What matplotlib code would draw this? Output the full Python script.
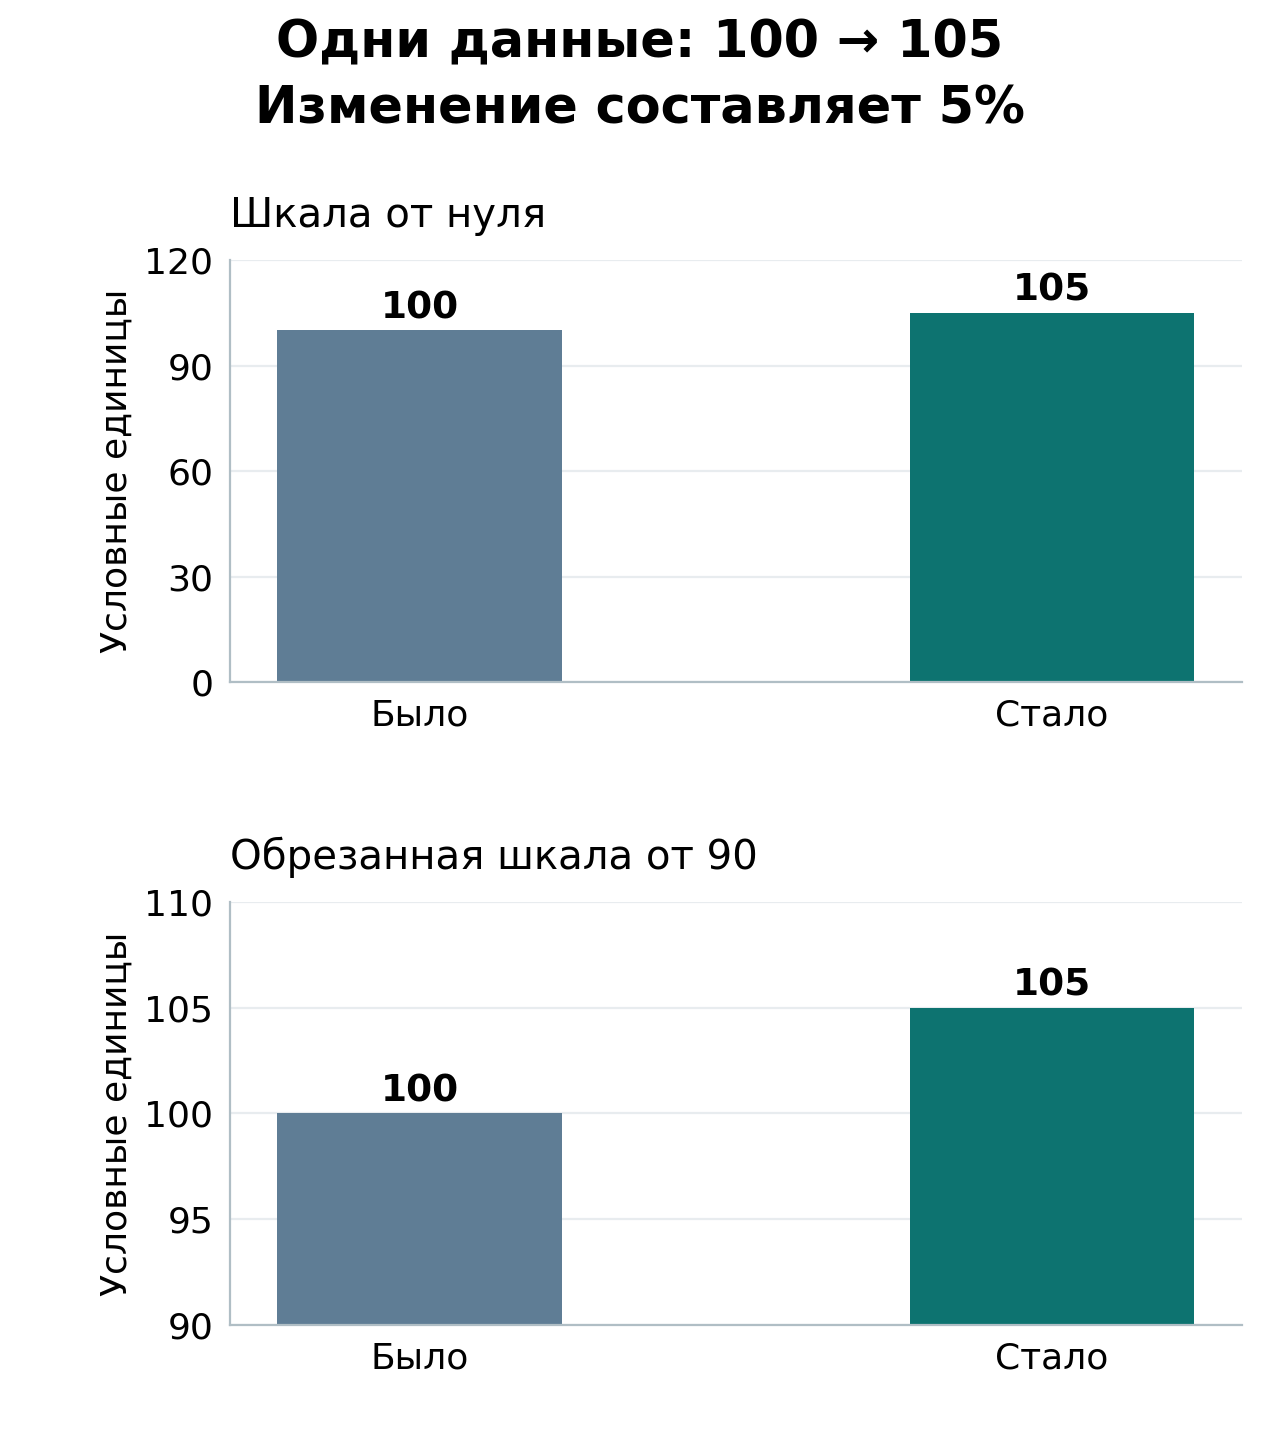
import matplotlib
matplotlib.use("Agg")
import matplotlib.pyplot as plt

categories = ["Было", "Стало"]
values = [100, 105]
colors = ["#5f7d95", "#0d7370"]
title = "Одни данные: 100 → 105\nИзменение составляет 5%"
panel_titles = ["Шкала от нуля", "Обрезанная шкала от 90"]
ylims = [(0, 120), (90, 110)]
yticks = [[0, 30, 60, 90, 120], [90, 95, 100, 105, 110]]
ylabel = "Условные единицы"

plt.rcParams['font.family'] = ['DejaVu Sans']
fig = plt.figure(figsize=(6.4, 7.2), dpi=200)
positions = [[0.1797, 0.5264, 0.7903, 0.2930], [0.1797, 0.0799, 0.7903, 0.2937]]

for i in range(2):
    ax = fig.add_axes(positions[i])
    x = list(range(len(categories)))
    ax.bar(x, values, width=0.45, color=colors, zorder=2)
    ax.set_xlim(-0.3, 1.3)
    ax.set_ylim(*ylims[i])
    ax.set_yticks(yticks[i])
    ax.set_xticks(x)
    ax.set_xticklabels(categories)
    ax.tick_params(axis='both', length=0, labelsize=13)
    ax.tick_params(axis='x', pad=6)
    ax.tick_params(axis='y', pad=6)
    ax.grid(axis='y', color='#e8ecef', linewidth=0.8, zorder=0)
    ax.set_axisbelow(True)
    for s in ['top', 'right']:
        ax.spines[s].set_visible(False)
    for s in ['left', 'bottom']:
        ax.spines[s].set_color('#b0bec5')
        ax.spines[s].set_linewidth(0.8)
    ax.set_ylabel(ylabel, fontsize=13, labelpad=4)
    ax.set_title(panel_titles[i], loc='left', fontsize=14.5, pad=12)
    for xi, v in zip(x, values):
        ax.annotate(str(v), (xi, v), xytext=(0, 1.5), textcoords='offset points',
                    ha='center', va='bottom', fontsize=13.5, fontweight='bold')

fig.text(0.5, 0.987, title, ha='center', va='top', fontsize=18.3, fontweight='bold',
         linespacing=1.4)
fig.savefig("out.png", dpi=200)
